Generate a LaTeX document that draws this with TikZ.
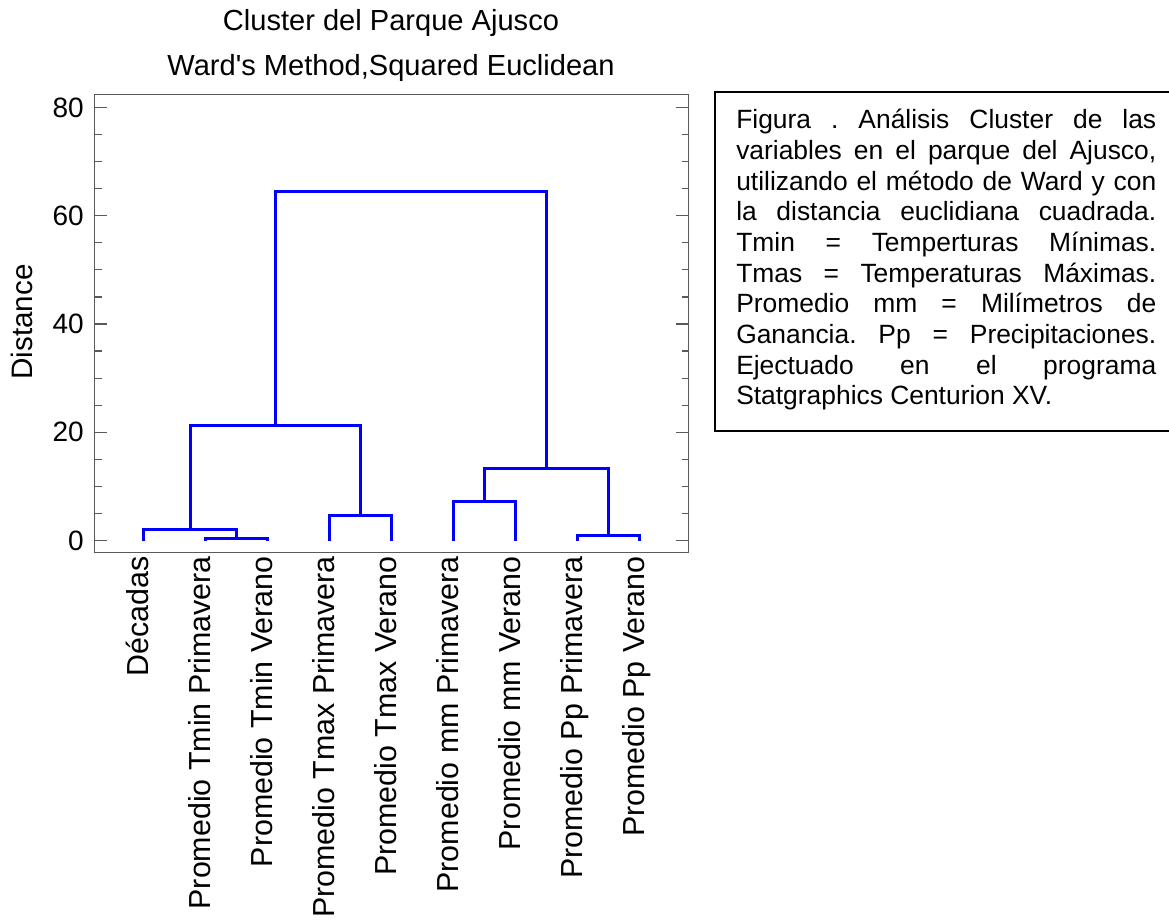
\documentclass[tikz,border=0pt]{standalone}
\usepackage{fontspec}
\setmainfont{Liberation Sans}
\usepackage{xcolor}
\definecolor{dendblue}{RGB}{0,0,255}
\definecolor{axisgray}{RGB}{90,90,90}
\tikzset{
  dendro/.style={color=dendblue,line width=1.6pt},
  axisline/.style={draw=axisgray,line width=1.1pt},
  leaflabel/.style={rotate=90,anchor=east,inner sep=0pt,font=\fontsize{22.8}{27}\selectfont,text height=0.72em,text depth=0em},
  ticklabel/.style={anchor=east,inner sep=0pt,font=\fontsize{21}{25}\selectfont},
  titletext/.style={anchor=base,inner sep=0pt,font=\fontsize{21.8}{26}\selectfont},
}

\begin{document}
\begin{tikzpicture}[x=0.75pt,y=-0.75pt]
  \useasboundingbox (0,0) rectangle (1169,921);
  % titles
  \node[titletext] (title) at (391,30.7) {Cluster del Parque Ajusco};
  \node[titletext] (subtitle) at (391,75) {Ward\textquotesingle s Method,Squared Euclidean};
  % frame
  \draw[axisline] (94.7,94.5) rectangle (688.7,552.5);
  \node[rotate=90,inner sep=0pt,font=\fontsize{22.2}{26}\selectfont] (ylabel) at (22,322) {Distance};
  \begin{scope}[shift={(0,540.5)},y=4.0594pt]
    % ticks, both sides
    \foreach \v in {5,10,...,75} {
      \draw[axisline,line width=0.9pt] (94.7,\v) -- ++(7,0);
      \draw[axisline,line width=0.9pt] (688.7,\v) -- ++(-7,0);
    }
    \foreach \v in {0,20,...,80} {
      \draw[axisline,line width=0.9pt] (94.7,\v) -- ++(12.5,0);
      \draw[axisline,line width=0.9pt] (688.7,\v) -- ++(-12.5,0);
      \node[ticklabel] (y\v) at (84,\v) {\v};
    }
  \end{scope}
  % leaves
  \foreach \n [count=\i from 0] in {dec,tminp,tminv,tmaxp,tmaxv,mmp,mmv,ppp,ppv}
    \coordinate (\n) at ({143.5+62*\i},540.5);
  % merge points
  \coordinate (mtmin) at (236.5,538.5);
  \coordinate (mdec) at (190.5,529.5);
  \coordinate (mtmax) at (360.5,515.5);
  \coordinate (mga) at (275.5,425.5);
  \coordinate (mmm) at (484.5,501.5);
  \coordinate (mpp) at (608.5,535.5);
  \coordinate (mgb) at (546.5,468.5);
  \coordinate (mtop) at (411,191.5);
  % dendrogram
  \begin{scope}[dendro]
    \draw (tminp) |- (mtmin) -| (tminv);
    \draw (dec) |- (mdec) -| (mtmin);
    \draw (tmaxp) |- (mtmax) -| (tmaxv);
    \draw (mdec) |- (mga) -| (mtmax);
    \draw (mmp) |- (mmm) -| (mmv);
    \draw (ppp) |- (mpp) -| (ppv);
    \draw (mmm) |- (mgb) -| (mpp);
    \draw (mga) |- (mtop) -| (mgb);
  \end{scope}
  % leaf labels
  \foreach \n/\t [count=\i from 0] in {dec/Décadas,tminp/Promedio Tmin Primavera,tminv/Promedio Tmin Verano,tmaxp/Promedio Tmax Primavera,tmaxv/Promedio Tmax Verano,mmp/Promedio mm Primavera,mmv/Promedio mm Verano,ppp/Promedio Pp Primavera,ppv/Promedio Pp Verano}
    \node[leaflabel] (lab\n) at ({143.5+62*\i},556) {\t};
  % caption box
  \draw[black,line width=1.5pt] (1175,92.3) -- (715,92.3) -- (715,430.7) -- (1175,430.7);
  \node[anchor=north west,inner sep=0pt,text width=315pt,align=justify,font=\fontsize{19.8}{23}\selectfont\frenchspacing] (caption) at (736,109) {Figura . Análisis Cluster de las\linebreak
variables en el parque del Ajusco,\linebreak
utilizando el método de Ward y con\linebreak
la distancia euclidiana cuadrada.\linebreak
Tmin = Temperturas Mínimas.\linebreak
Tmas = Temperaturas Máximas.\linebreak
Promedio mm = Milímetros de\linebreak
Ganancia. Pp = Precipitaciones.\linebreak
Ejectuado en el programa\linebreak
Statgraphics Centurion XV.};
\end{tikzpicture}
\end{document}
